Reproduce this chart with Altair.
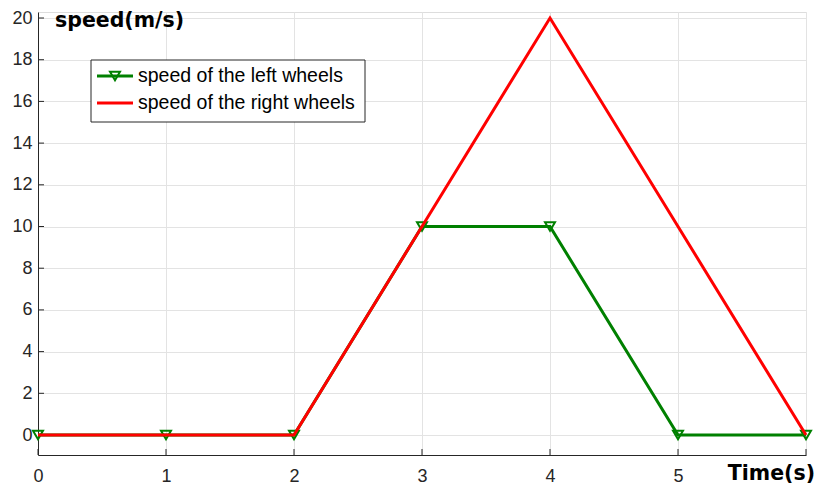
import altair as alt
import pandas as pd

time = [0, 1, 2, 3, 4, 5, 6]
left_speed = [0, 0, 0, 10, 10, 0, 0]
right_speed = [0, 0, 0, 10, 20, 10, 0]
x_ticks = [0, 1, 2, 3, 4, 5, 6]
y_ticks = [0, 2, 4, 6, 8, 10, 12, 14, 16, 18, 20]
series_names = ["speed of the left wheels", "speed of the right wheels"]

W, H = 768, 443
AX = "#262626"
GREEN = "#008000"
RED = "#ff0000"

df_left = pd.DataFrame({"t": time, "v": left_speed})
df_right = pd.DataFrame({"t": time, "v": right_speed})
df_xt = pd.DataFrame({"t": x_ticks})
df_yt = pd.DataFrame({"v": y_ticks})

xs = alt.Scale(domain=[0, 6], nice=False, zero=False)
ys = alt.Scale(domain=[-0.959, 20.288], nice=False, zero=False)

xaxis = alt.Axis(values=x_ticks, title=None, grid=True, gridColor="#e3e3e3",
                 domainColor=AX, tickSize=0, labelPadding=12, labelFontSize=18,
                 labelFont="Liberation Sans", labelColor=AX, format="d",
                 labelFlush=False, labelBound=False,
                 labelExpr="datum.value == 6 ? '' : datum.label")
yaxis = alt.Axis(values=y_ticks, title=None, grid=True, gridColor="#e3e3e3",
                 domainColor=AX, tickSize=0, labelPadding=6, labelFontSize=18,
                 labelFont="Liberation Sans", labelColor=AX, format="d",
                 labelFlush=False, labelBound=False)

base_axes = alt.Chart(df_left).mark_point(opacity=0).encode(
    x=alt.X("t:Q", scale=xs, axis=xaxis),
    y=alt.Y("v:Q", scale=ys, axis=yaxis),
)

green_line = alt.Chart(df_left).mark_line(color=GREEN, strokeWidth=3).encode(
    x=alt.X("t:Q", scale=xs), y=alt.Y("v:Q", scale=ys))
green_pts = alt.Chart(df_left).mark_point(shape="triangle-down", color=GREEN,
                                           filled=False, size=100, strokeWidth=2,
                                           opacity=1).encode(
    x=alt.X("t:Q", scale=xs), y=alt.Y("v:Q", scale=ys))
red_line = alt.Chart(df_right).mark_line(color=RED, strokeWidth=3).encode(
    x=alt.X("t:Q", scale=xs), y=alt.Y("v:Q", scale=ys))

xt = alt.Chart(df_xt).mark_rule(color=AX, strokeWidth=1).encode(
    x=alt.X("t:Q", scale=xs), y=alt.value(H), y2=alt.value(H - 6))
yt = alt.Chart(df_yt).mark_rule(color=AX, strokeWidth=1).encode(
    y=alt.Y("v:Q", scale=ys), x=alt.value(0), x2=alt.value(6))

# legend
leg_box = alt.Chart(pd.DataFrame({"a": [0]})).mark_rect(
    fill="white", stroke=AX, strokeWidth=1).encode(
    x=alt.value(53), x2=alt.value(327), y=alt.value(48), y2=alt.value(110))
leg_df = pd.DataFrame({"name": series_names, "yy": [64, 91],
                       "col": [GREEN, RED]})
leg_lines = alt.Chart(leg_df).mark_rule(strokeWidth=3).encode(
    x=alt.value(59), x2=alt.value(95), y=alt.Y("yy:Q", scale=None),
    color=alt.Color("col:N", scale=None))
leg_marker = alt.Chart(leg_df.iloc[[0]]).mark_point(
    shape="triangle-down", color=GREEN, filled=False, size=100, strokeWidth=2,
    opacity=1).encode(x=alt.value(77), y=alt.Y("yy:Q", scale=None))
leg_text = alt.Chart(leg_df).mark_text(
    align="left", baseline="middle", fontSize=19.5, font="Liberation Sans",
    color="#000000").encode(
    x=alt.value(100), y=alt.Y("yy:Q", scale=None), text="name:N")

ylab = alt.Chart(pd.DataFrame({"s": ["speed(m/s)"]})).mark_text(
    align="left", baseline="alphabetic", fontSize=20.5, fontWeight="bold",
    font="DejaVu Sans", color="#000000").encode(
    x=alt.value(17), y=alt.value(15), text="s:N")
xlab = alt.Chart(pd.DataFrame({"s": ["Time(s)"]})).mark_text(
    align="right", baseline="alphabetic", fontSize=20.5, fontWeight="bold",
    font="DejaVu Sans", color="#000000").encode(
    x=alt.value(777), y=alt.value(468), text="s:N")

chart = alt.layer(
    base_axes, xt, yt, green_line, green_pts, red_line,
    leg_box, leg_lines, leg_marker, leg_text, ylab, xlab
).properties(
    width=W, height=H,
    padding={"left": 30, "top": 4, "right": 9, "bottom": 31},
    autosize=alt.AutoSizeParams(type="none"),
).configure_view(stroke=None).configure(background="white")

chart.save("out.html", embed_options={"renderer": "svg", "actions": False})
